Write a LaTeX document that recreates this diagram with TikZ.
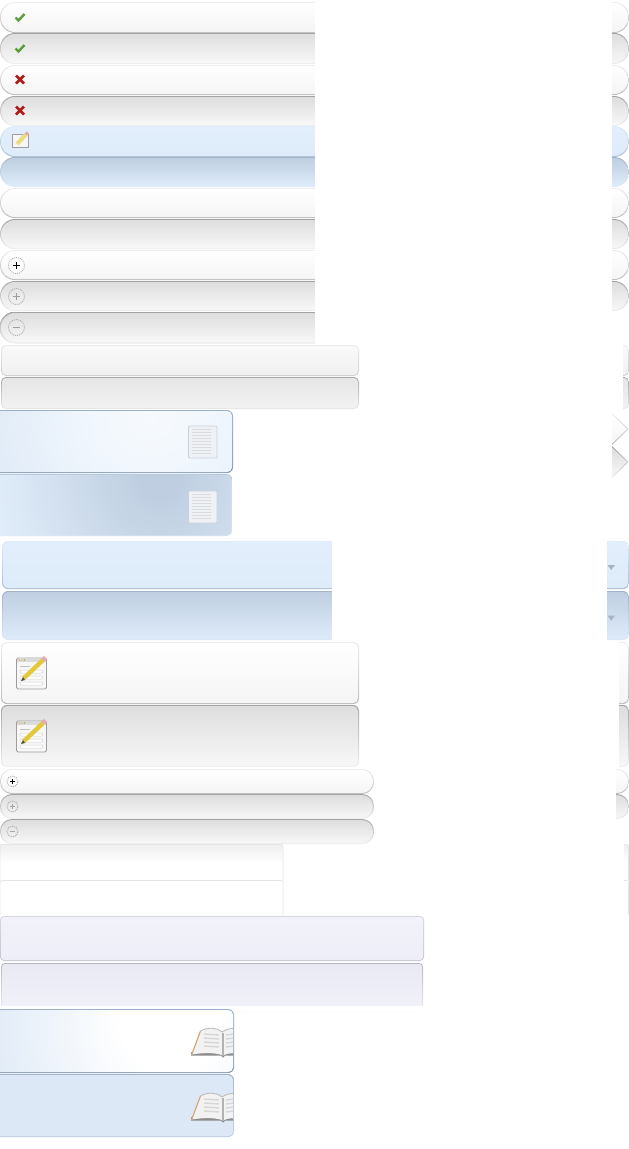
\documentclass[tikz,border=0pt]{standalone}
\usepackage{xcolor}
\definecolor{skyA}{HTML}{E2EEFB}
\definecolor{skyB}{HTML}{DEEBFA}
\definecolor{skyC}{HTML}{DCE8F6}
\definecolor{skyD}{HTML}{BFCFE1}
\definecolor{skyE}{HTML}{A9BED6}
\definecolor{skyF}{HTML}{A3B4C6}
\definecolor{steelA}{HTML}{9AB0CC}
\definecolor{steelB}{HTML}{7D94B2}
\definecolor{lilacA}{HTML}{F2F2FA}
\definecolor{lilacB}{HTML}{EDEEF7}
\definecolor{lilacC}{HTML}{C6C6D6}
\definecolor{lilacD}{HTML}{E9E9F4}
\definecolor{lilacE}{HTML}{B4B4C0}
\definecolor{pageA}{HTML}{EEF2F7}
\definecolor{pageB}{HTML}{C8D0DA}
\definecolor{leadY}{HTML}{E3C93A}
\definecolor{tipP}{HTML}{E8A8B4}
\definecolor{tickG}{HTML}{5A9E3C}
\definecolor{crossR}{HTML}{B01C1C}
\pgfdeclareradialshading{cardglow}{\pgfpoint{0bp}{0bp}}{color(0bp)=(white!70!skyA); color(8bp)=(white!50!skyA); color(25bp)=(skyC); color(50bp)=(skyC)}
\pgfdeclareradialshading{cardshade}{\pgfpoint{0bp}{0bp}}{color(0bp)=(skyD); color(3bp)=(skyD); color(25bp)=(skyA); color(50bp)=(skyA)}
\pgfdeclareradialshading{bookglow}{\pgfpoint{0bp}{0bp}}{color(0bp)=(white); color(6bp)=(white); color(25bp)=(skyC); color(50bp)=(skyC)}
\newcommand{\Bar}[6]{
\shade[style/.expanded=#6 edge, rounded corners={#5pt}] (#1,#2) rectangle (#3,#4);
\shade[style/.expanded=#6 face, rounded corners={#5pt-1pt}] (#1+1,#2+1) rectangle (#3-1,#4-1);
}
\newcommand{\Cap}[6]{
\begin{scope}
\clip (#1,#2) rectangle (#3,#4);
\Bar{#1-100}{#2}{#3}{#4}{#5}{#6}
\end{scope}
}
\tikzset{
greyup edge/.style={top color=black!7, middle color=black!10, bottom color=black!27},
greyup face/.style={top color=white, bottom color=black!4},
greydown edge/.style={top color=black!36, middle color=black!13, bottom color=black!6},
greydown face/.style={top color=black!13, bottom color=black!3},
flatup edge/.style={top color=black!8, middle color=black!10, bottom color=black!20},
flatup face/.style={top color=black!2, bottom color=black!6},
flatdown edge/.style={top color=black!34, middle color=black!13, bottom color=black!9},
flatdown face/.style={top color=black!10, bottom color=black!5},
blueup edge/.style={top color=skyB, middle color=skyC, bottom color=skyE},
blueup face/.style={top color=skyA, bottom color=skyB},
bluedown edge/.style={top color=skyF, middle color=skyC, bottom color=skyA},
bluedown face/.style={top color=skyD, bottom color=skyB},
droplow edge/.style={top color=skyF, middle color=skyD!70!skyC, bottom color=skyC},
droplow face/.style={top color=skyD, middle color=skyD!80!skyC, bottom color=skyB},
card edge/.style={top color=steelA, bottom color=steelB},
card face/.style={top color=skyC, bottom color=skyC},
lilacup edge/.style={top color=lilacB!90!black, middle color=lilacB!90!black, bottom color=lilacC},
lilacup face/.style={top color=lilacA, bottom color=lilacB},
lilacdown edge/.style={top color=lilacE, middle color=lilacD!95!black, bottom color=lilacB},
lilacdown face/.style={top color=lilacD, bottom color=lilacA},
panel/.style={fill=white},
roundel/.style={circle, draw=black!35, line width=0.8pt, dash pattern=on 1pt off 1pt, inner sep=0pt},
tickline/.style={line width=2.4pt, color=tickG},
crossline/.style={line width=2.7pt, color=crossR},
paper/.style={fill=pageA, draw=pageB, line width=0.8pt},
leadline/.style={line width=4.4pt, color=leadY},
rubber/.style={line width=4.4pt, color=tipP},
tabedge/.style={draw=black!10, line width=0.8pt}
}
\begin{document}
\begin{tikzpicture}[x=1pt,y=-1pt]
\clip (0,0) rectangle (629,1149);
\fill[panel] (0,0) rectangle (629,1149);

% round bars
\foreach \ya/\yb/\kind in {2/33/greyup, 33/64/greydown, 65/95/greyup, 96/126/greydown, 126/157/blueup, 157/187/bluedown, 188/218/greyup, 219/249/greydown, 250/280/greyup, 281/311/greydown}
  \Bar{0}{\ya}{629}{\yb}{15}{\kind}
\Bar{0}{312}{400}{343}{15}{greydown}
\fill[panel] (315,0) rectangle (612,312);
\fill[panel] (315,312) rectangle (629,344);

\draw[tickline] (15.5,17.5) -- (18.5,20.5) -- (24.5,14);
\draw[tickline] (15.5,48.5) -- (18.5,51.5) -- (24.5,45);
\draw[crossline] (16,75.5) -- (24,83.5) (16,83.5) -- (24,75.5);
\draw[crossline] (16,106.5) -- (24,114.5) (16,114.5) -- (24,106.5);

% note icon
\fill[black!4, draw=black!38, line width=0.8pt] (12.5,134.5) rectangle (28.5,147.5);
\draw[white, line width=0.7pt] (13,135) -- (20,142) -- (28,135);
\draw[line width=4pt, leadY!65!white] (17,144) -- (26,134.5);
\draw[line width=3.5pt, tipP] (26,134.5) -- (28,132.5);

\node (addA) at (16.5,265.5) [roundel, fill=white, minimum size=16pt] {};
\node (addB) at (16.5,296.5) [roundel, minimum size=16pt] {};
\node (subA) at (16.5,327.5) [roundel, minimum size=16pt] {};
\draw[line width=1.5pt] (12.8,265.5) -- (20.2,265.5) (16.5,261.8) -- (16.5,269.2);
\draw[line width=1.1pt, black!38] (12.8,296.5) -- (20.2,296.5) (16.5,292.8) -- (16.5,300.2);
\draw[line width=1.1pt, black!38] (12.8,327.5) -- (20.2,327.5);

% square bars
\Bar{1}{345}{359}{376}{5}{flatup}
\Bar{1}{377}{359}{409}{5}{flatdown}
\Cap{623}{345}{629}{376}{5}{flatup}
\Cap{623}{377}{629}{409}{5}{flatdown}

% blue cards with page
\Bar{-8}{410}{233}{473}{6}{card}
\begin{scope}
\clip[rounded corners=5pt] (-7,411) rectangle (232,472);
\shade[shading=cardglow] (150,415) circle (190);
\end{scope}
\begin{scope}
\shade[top color=skyF!60!skyC, bottom color=skyC, rounded corners=6pt] (-8,474) rectangle (232.5,536);
\clip[rounded corners=5pt] (-8,475) rectangle (231.5,535.5);
\fill[skyA] (-8,474) rectangle (233,536);
\shade[shading=cardshade] (160,478) circle (175);
\end{scope}
\foreach \ya in {426,491}{
  \draw[paper, rounded corners=1pt] (188.5,\ya) rectangle (217,\ya+32);
  \foreach \yl in {3.5,6.5,...,29}
    \draw[black!14, line width=1.6pt] (191.5,\ya+\yl) -- (211,\ya+\yl);
}

% right pointers
\foreach \ya/\kind in {413/greyup, 446/greydown}{
  \shade[style/.expanded=\kind\space edge] (612,\ya) -- (628.5,\ya+16) -- (612,\ya+32) -- cycle;
  \shade[style/.expanded=\kind\space face] (612,\ya+1.5) -- (627,\ya+16) -- (612,\ya+30.5) -- cycle;
}

% drop boxes
\Bar{2}{541}{629}{589}{6}{blueup}
\Bar{2}{591}{629}{640}{6}{droplow}
\fill[panel] (332,540) rectangle (607,641);
\foreach \yt in {565,615.5}
  \fill[skyF] (607.5,\yt) -- (615,\yt) -- (611.2,\yt+5) -- cycle;

% window cards
\Bar{1}{642}{359}{704}{6}{greyup}
\Bar{1}{705}{359}{767}{6}{greydown}
\Cap{619}{642}{629}{704}{6}{greyup}
\Cap{619}{705}{629}{767}{6}{greydown}
\foreach \ya in {658,721}{
  \draw[fill=black!3, draw=black!38, line width=0.9pt, rounded corners=1.5pt] (16.5,\ya) rectangle (46.5,\ya+31);
  \fill[black!14] (17,\ya+.5) rectangle (46,\ya+4);
  \fill[tipP] (19.5,\ya+2) circle (0.9);
  \fill[leadY] (22,\ya+2) circle (0.9);
  \fill[tickG!70!white] (24.5,\ya+2) circle (0.9);
  \draw[black!25, line width=0.6pt] (20,\ya+8) -- (30,\ya+8);
  \foreach \yl in {14,20,26}
    \draw[black!18, fill=white, line width=0.5pt, rounded corners=0.8pt] (20,\ya+\yl-2) rectangle (42.5,\ya+\yl+1);
  \draw[leadline] (23.5,\ya+20.5) -- (43,\ya+2);
  \draw[rubber] (43,\ya+2) -- (45.5,\ya-0.5);
  \fill[black!70] (21,\ya+23) -- (23,\ya+19) -- (25,\ya+22) -- cycle;
}

% small bars
\Bar{0}{769}{374}{794}{12}{greyup}
\Bar{0}{794}{374}{819}{12}{greydown}
\Bar{0}{819}{374}{844}{12}{greydown}
\Cap{616}{769}{629}{794}{12}{greyup}
\Cap{616}{794}{629}{819}{12}{greydown}
\node (addC) at (12.5,781.5) [roundel, fill=white, minimum size=11pt] {};
\node (addD) at (12.5,806.5) [roundel, minimum size=11pt] {};
\node (subB) at (12.5,831.5) [roundel, minimum size=11pt] {};
\draw[line width=1.1pt] (9.8,781.5) -- (15.2,781.5) (12.5,778.8) -- (12.5,784.2);
\draw[line width=0.8pt, black!35] (9.8,806.5) -- (15.2,806.5) (12.5,803.8) -- (12.5,809.2);
\draw[line width=0.8pt, black!35] (9.8,831.5) -- (15.2,831.5);

% tabs
\shade[top color=black!6, bottom color=white, rounded corners=2pt] (0,845) rectangle (283,862);
\shade[top color=black!6, bottom color=white, rounded corners=2pt] (610,845) rectangle (629,862);
\draw[tabedge, rounded corners=2pt] (0,880) -- (0,844.5) -- (283,844.5) -- (283,880);
\draw[tabedge, rounded corners=2pt] (0,915) -- (0,880.5) -- (283,880.5) -- (283,915);
\draw[tabedge, rounded corners=2pt] (620,844.5) -- (628.5,844.5) -- (628.5,880);
\draw[tabedge, rounded corners=2pt] (620,880.5) -- (628.5,880.5) -- (628.5,915);
\fill[panel] (600,843) rectangle (624,916);

% lilac bars
\Bar{0}{916}{424}{961}{4}{lilacup}
\Bar{1}{963}{423}{1012}{4}{lilacdown}
\fill[panel] (0,1006) rectangle (430,1012);

% book cards
\Bar{-8}{1009}{234}{1073}{6}{card}
\begin{scope}
\clip[rounded corners=5pt] (-7,1010) rectangle (233,1072);
\shade[shading=bookglow] (170,1025) circle (200);
\end{scope}
\shade[top color=skyF, bottom color=skyD, rounded corners=6pt] (-8,1074) rectangle (234,1137);
\fill[skyC, rounded corners=5pt] (-8,1075.2) rectangle (233.2,1136.2);
\foreach \yo in {0,65}{
  \begin{scope}
  \clip (185,1020+\yo) rectangle (233,1065+\yo);
  \fill[black!45] (191,1055.5+\yo) -- (221,1055.5+\yo) -- (223,1057.5+\yo) -- (225,1055.5+\yo) -- (236,1055.5+\yo) -- (236,1052+\yo) -- (191,1052+\yo) -- cycle;
  \fill[black!5] (191.5,1054.5+\yo) -- (200.5,1031+\yo) .. controls (208,1027+\yo) and (216,1027+\yo) .. (222,1032+\yo) .. controls (226,1029+\yo) and (231,1028+\yo) .. (240,1028+\yo) -- (240,1054+\yo) .. controls (234,1052.5+\yo) and (228,1053+\yo) .. (223,1055.5+\yo) .. controls (216,1052.5+\yo) and (204,1052.5+\yo) .. (191.5,1054.5+\yo);
  \draw[black!28, line width=0.8pt] (200.5,1031+\yo) .. controls (208,1027+\yo) and (216,1027+\yo) .. (222,1032+\yo) .. controls (226,1029+\yo) and (231,1028+\yo) .. (240,1028+\yo);
  \draw[orange!70!black!55, line width=1.1pt] (191.5,1055+\yo) -- (200.5,1031+\yo);
  \fill[black!30] (221.5,1033+\yo) rectangle (223.5,1055+\yo);
  \foreach \yl in {0,4,...,12}{
    \draw[black!16, line width=1.4pt] (204,1034+\yo+\yl) -- (219,1035+\yo+\yl);
    \draw[black!16, line width=1.4pt] (226,1035+\yo+\yl) -- (234,1034+\yo+\yl);
  }
  \end{scope}
}
\end{tikzpicture}
\end{document}
